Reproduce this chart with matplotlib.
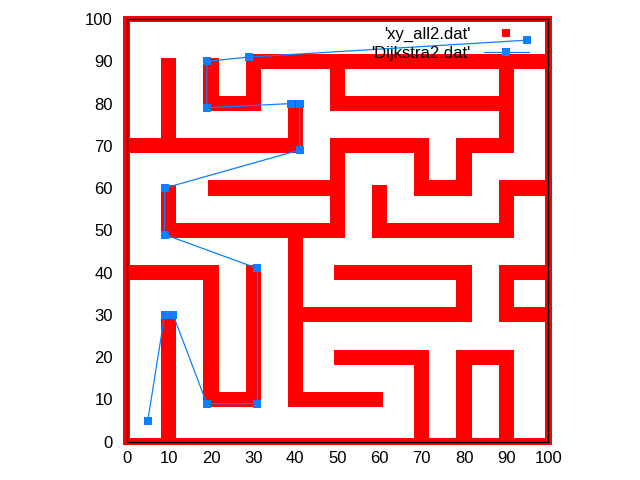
import matplotlib
matplotlib.use("Agg")
import matplotlib.pyplot as plt
from matplotlib.patches import Rectangle
from matplotlib.lines import Line2D

plt.rcParams['font.family'] = ['Liberation Sans', 'DejaVu Sans']

# outer frame of the maze (single row of points)
border_x0 = [0, 0, 0, 100]
border_y0 = [0, 100, 0, 0]
border_x1 = [100, 100, 0, 100]
border_y1 = [0, 100, 100, 100]

# inner walls (three rows of points wide)
wall_x0 = [10, 20, 20, 30, 0, 40, 40, 10, 10, 20, 50, 50, 70, 70, 80, 80, 90, 50, 50, 30, 30,
           20, 20, 0, 40, 10, 60, 60, 90, 90, 40, 50, 80, 90, 90, 90, 50, 70, 80, 80, 90]
wall_y0 = [0, 10, 10, 10, 40, 10, 10, 50, 50, 60, 50, 70, 60, 60, 60, 70, 70, 80, 80, 90, 80,
           80, 80, 70, 70, 70, 50, 50, 50, 60, 30, 40, 30, 40, 30, 30, 20, 0, 20, 0, 0]
wall_x1 = [10, 20, 30, 30, 20, 40, 60, 50, 10, 50, 50, 70, 70, 80, 80, 90, 90, 90, 50, 100, 30,
           30, 20, 40, 40, 10, 90, 60, 90, 100, 80, 80, 80, 100, 90, 100, 70, 70, 90, 80, 90]
wall_y1 = [30, 40, 10, 41, 40, 50, 10, 50, 60, 60, 70, 70, 70, 60, 70, 70, 90, 80, 90, 90, 90,
           80, 90, 70, 80, 90, 50, 60, 60, 60, 30, 40, 40, 40, 40, 30, 20, 20, 20, 20, 20]

# Dijkstra path
path_x = [5, 9, 11, 19, 31, 31, 9, 9, 41, 41, 39, 19, 19, 29, 95]
path_y = [5, 30, 30, 9, 9, 41, 49, 60, 69, 80, 80, 79, 90, 91, 95]

RED = '#ff0000'
BLUE = '#0a80ff'
half_pt = 0.8   # half size of one square point


def touches_other(px, py, skip):
    # is this end point part of another inner wall?
    for j in range(len(wall_x0)):
        if j == skip:
            continue
        ax0, ay0, ax1, ay1 = wall_x0[j], wall_y0[j], wall_x1[j], wall_y1[j]
        if ax0 == ax1 == px and min(ay0, ay1) <= py <= max(ay0, ay1):
            return True
        if ay0 == ay1 == py and min(ax0, ax1) <= px <= max(ax0, ax1):
            return True
    return False


def add_wall(ax, x0, y0, x1, y1, spread, ext0=0, ext1=0):
    # spread = how far the extra rows of points reach sideways
    lo = (min(x0, x1), min(y0, y1))
    hi = (max(x0, x1), max(y0, y1))
    if x0 == x1:
        xa, xb = x0 - spread - half_pt, x0 + spread + half_pt
        ya, yb = lo[1] - half_pt - ext0, hi[1] + half_pt + ext1
    else:
        ya, yb = y0 - spread - half_pt, y0 + spread + half_pt
        xa, xb = lo[0] - half_pt - ext0, hi[0] + half_pt + ext1
    ax.add_patch(Rectangle((xa, ya), xb - xa, yb - ya, facecolor=RED,
                           edgecolor='none', clip_on=False, zorder=1))


fig = plt.figure(figsize=(6.4, 4.8), dpi=100)
ax = fig.add_axes([0.198, 0.0798, 0.6588, 0.8806])

for i in range(len(border_x0)):
    add_wall(ax, border_x0[i], border_y0[i], border_x1[i], border_y1[i], 0)
for i in range(len(wall_x0)):
    x0, y0, x1, y1 = wall_x0[i], wall_y0[i], wall_x1[i], wall_y1[i]
    if (x0, y0) > (x1, y1):
        x0, y0, x1, y1 = x1, y1, x0, y0
    e0 = 1 if touches_other(x0, y0, i) else 0
    e1 = 1 if touches_other(x1, y1, i) else 0
    add_wall(ax, x0, y0, x1, y1, 1, e0, e1)

ax.plot(path_x, path_y, color=BLUE, lw=0.9, marker='s', markersize=5.2,
        markeredgewidth=0, zorder=3, clip_on=False)

ax.set_xlim(0, 100)
ax.set_ylim(0, 100)
ax.set_xticks(range(0, 101, 10))
ax.set_yticks(range(0, 101, 10))
ax.tick_params(length=0, labelsize=12, pad=7)
ax.tick_params(axis='y', pad=10)
for sp in ax.spines.values():
    sp.set_linewidth(1.0)
    sp.set_zorder(2.5)

h_maze = Line2D([], [], ls='none', marker='s', color=RED, markersize=5.2,
                markeredgewidth=0)
h_path = Line2D([], [], color=BLUE, lw=0.9, marker='s', markersize=5.2,
                markeredgewidth=0)
ax.legend([h_maze, h_path], ["'xy_all2.dat'", "'Dijkstra2.dat'"],
          loc='upper right', bbox_to_anchor=(0.954, 0.982), frameon=False,
          markerfirst=False, fontsize=12, handlelength=2.7, handletextpad=0.8,
          labelspacing=0.23, borderpad=0, borderaxespad=0)

fig.savefig('out.png', dpi=100)
